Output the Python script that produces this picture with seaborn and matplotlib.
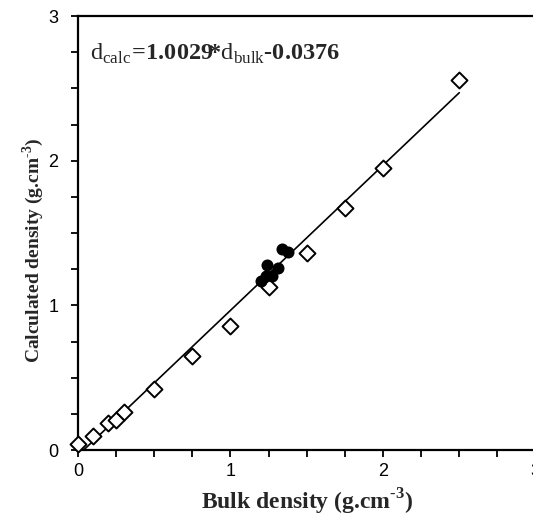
import seaborn as sns
import matplotlib.pyplot as plt
import numpy as np
import pandas as pd
from matplotlib.ticker import MultipleLocator, FuncFormatter

# standards (open diamonds)
bulk_std = [0.0, 0.1, 0.2, 0.25, 0.3, 0.5, 0.75, 1.0, 1.25, 1.5, 1.75, 2.0, 2.5]
calc_std = [0.04, 0.10, 0.19, 0.21, 0.26, 0.42, 0.65, 0.86, 1.13, 1.36, 1.67, 1.95, 2.56]

# samples (filled circles)
bulk_smp = [1.20, 1.23, 1.24, 1.27, 1.31, 1.34, 1.38]
calc_smp = [1.17, 1.20, 1.28, 1.20, 1.26, 1.39, 1.37]

# regression line d_calc = slope * d_bulk + intercept
slope = 1.0029
intercept = -0.0376
line_x = np.array([0.0375, 2.5])

sns.set_style("ticks")
plt.rcParams["font.family"] = ["Liberation Sans", "DejaVu Sans"]
plt.rcParams["mathtext.fontset"] = "custom"
plt.rcParams["mathtext.rm"] = "Liberation Serif"
plt.rcParams["mathtext.bf"] = "Liberation Serif:bold"

fig = plt.figure(figsize=(5.33, 5.15), dpi=100)
ax = fig.add_axes([0.1463, 0.1262, 0.8584, 0.8427])

df_line = pd.DataFrame({"x": line_x, "y": slope * line_x + intercept})
sns.lineplot(data=df_line, x="x", y="y", ax=ax, color="black", linewidth=1.2)

df_std = pd.DataFrame({"bulk": bulk_std, "calc": calc_std})
sns.scatterplot(data=df_std, x="bulk", y="calc", ax=ax, marker="D", s=66,
                facecolor="white", edgecolor="black", linewidth=1.4, zorder=3,
                clip_on=False)

df_smp = pd.DataFrame({"bulk": bulk_smp, "calc": calc_smp})
sns.scatterplot(data=df_smp, x="bulk", y="calc", ax=ax, marker="o", s=75,
                color="black", edgecolor="black", linewidth=0, zorder=4)

ax.set_xlim(0, 3)
ax.set_ylim(0, 3)
for a in (ax.xaxis, ax.yaxis):
    a.set_major_locator(MultipleLocator(0.25))
    a.set_major_formatter(FuncFormatter(lambda v, p: f"{v:.0f}" if abs(v - round(v)) < 1e-6 else ""))
ax.tick_params(direction="out", length=5, width=1.3, labelsize=13, colors="black")
ax.tick_params(axis="x", pad=4)
ax.tick_params(axis="y", pad=9)

ax.spines["right"].set_visible(False)
for s in ("left", "top", "bottom"):
    ax.spines[s].set_linewidth(1.6)
    ax.spines[s].set_color("black")

ax.set_xlabel("Bulk density (g.cm$^{\\mathbf{\u20103}}$)", fontfamily="Liberation Serif",
              fontweight="bold", fontsize=17)
ax.set_ylabel("Calculated density (g.cm$^{\\mathbf{\u20103}}$)", fontfamily="Liberation Serif",
              fontweight="bold", fontsize=14)
ax.xaxis.set_label_coords(0.5, -0.084)
ax.yaxis.set_label_coords(-0.07, 0.46)

ax.text(0.08, 2.7,
        "$\\mathrm{d}_{\\mathrm{calc}}\\!\\mathbf{=}\\!\\mathbf{1.0029}\\!\\mathbf{*}\\mathrm{d}_{\\mathrm{bulk}}\\mathbf{\u20100.0376}$",
        fontsize=17.5, va="baseline", ha="left")

fig.savefig("out.png", dpi=100)
